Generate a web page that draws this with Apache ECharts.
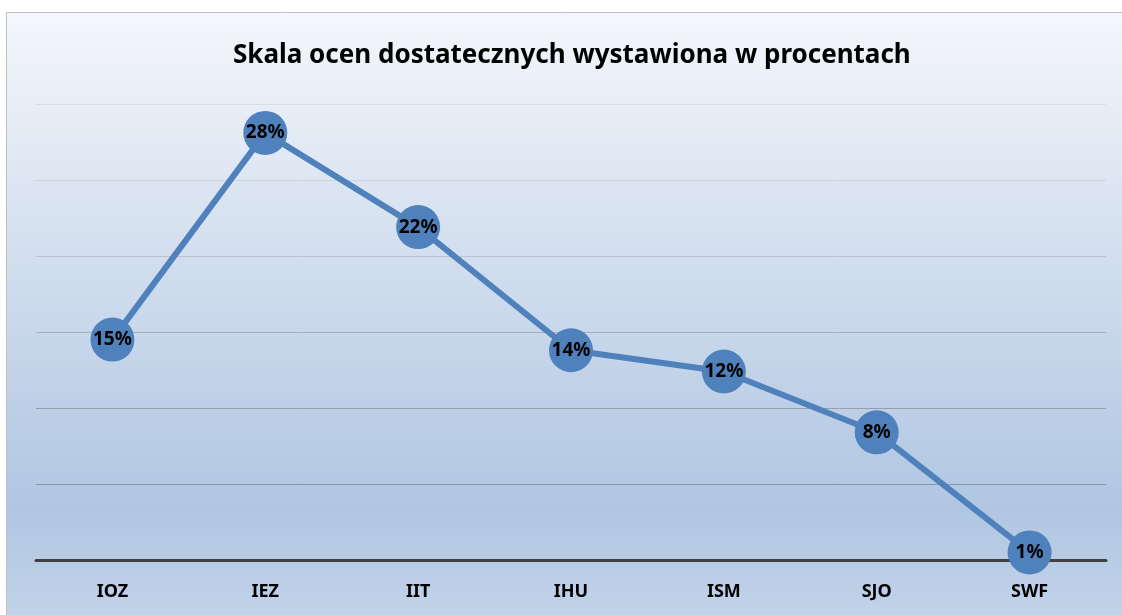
<!DOCTYPE html>
<html>
<head>
<meta charset="utf-8">
<script src="https://cdn.jsdelivr.net/npm/echarts@6/dist/echarts.min.js"></script>
<style>
  html, body { margin: 0; padding: 0; background: #fff; }
  #chart { width: 1122px; height: 615px; }
</style>
</head>
<body>
<div id="chart"></div>
<script>
// dane wykresu
const categories = ['IOZ', 'IEZ', 'IIT', 'IHU', 'ISM', 'SJO', 'SWF'];
const values = [14.5, 28.1, 21.9, 13.8, 12.4, 8.4, 0.5];
const titleText = 'Skala ocen dostatecznych wystawiona w procentach';

const chart = echarts.init(document.getElementById('chart'));

const option = {
    backgroundColor: '#fff',
    animation: false,
    graphic: [
        {
            type: 'rect',
            z: -10,
            shape: { x: 6.5, y: 12.5, width: 1130, height: 620 },
            style: {
                fill: {
                    type: 'linear', x: 0, y: 0, x2: 0, y2: 1,
                    colorStops: [
                        { offset: 0, color: '#f4f7fb' },
                        { offset: 0.5, color: '#c9d8eb' },
                        { offset: 0.8, color: '#b0c6e2' },
                        { offset: 1, color: '#c4d5ea' }
                    ]
                },
                stroke: '#c0c0c0',
                lineWidth: 1
            }
        }
    ],
    title: {
        text: titleText,
        left: 228,
        top: 38,
        textStyle: {
            fontFamily: 'Noto Sans',
            fontWeight: 'bold',
            fontSize: 26,
            color: '#000'
        }
    },
    grid: { left: 36, right: 16, top: 104, bottom: 55 },
    xAxis: {
        type: 'category',
        data: categories,
        boundaryGap: true,
        axisLine: { show: true, lineStyle: { color: '#404040', width: 3 } },
        axisTick: { show: false },
        axisLabel: {
            margin: 23,
            fontFamily: 'Noto Sans',
            fontWeight: 'bold',
            fontSize: 18,
            color: '#000'
        }
    },
    yAxis: {
        type: 'value',
        min: 0,
        max: 30,
        interval: 5,
        axisLabel: { show: false },
        axisLine: { show: false },
        axisTick: { show: false },
        splitLine: {
            lineStyle: {
                color: ['#888', '#8896a8', '#949fae', '#a6afbc', '#bcc3ce', '#ccd2db', '#d9dde6'],
                width: 1
            }
        }
    },
    series: [
        {
            type: 'line',
            data: values,
            symbol: 'circle',
            symbolSize: 44,
            lineStyle: { color: '#4f81bd', width: 6 },
            itemStyle: { color: '#4f81bd' },
            label: {
                show: true,
                position: 'inside',
                formatter: p => Math.round(p.value) + '%',
                fontFamily: 'Noto Sans',
                fontWeight: 'bold',
                fontSize: 19,
                color: '#000'
            }
        }
    ]
};

chart.setOption(option);
</script>
</body>
</html>
